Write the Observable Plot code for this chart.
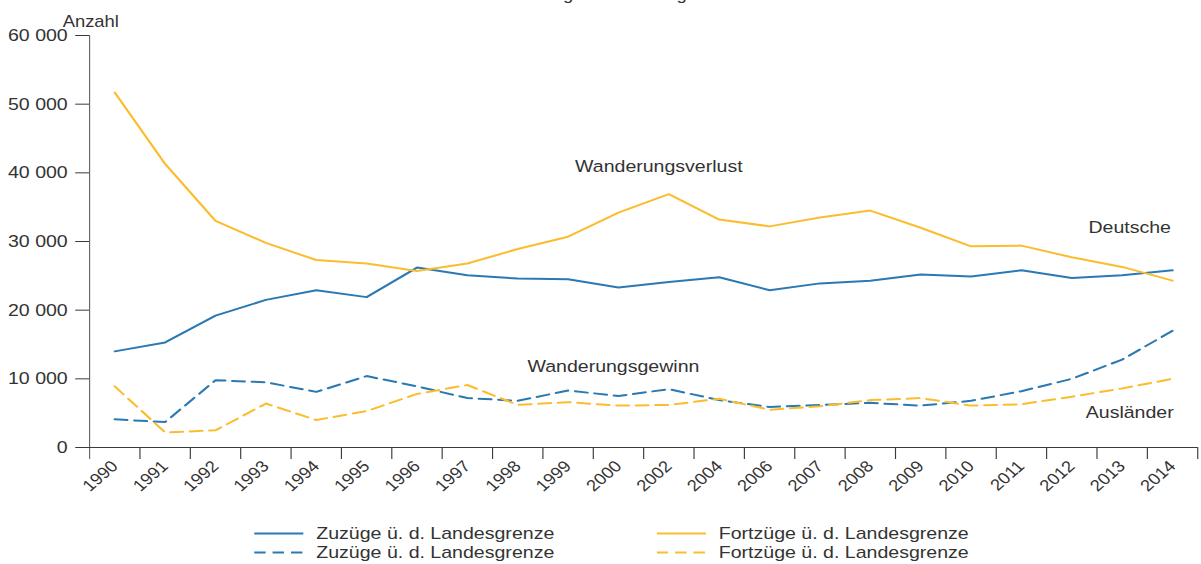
<!DOCTYPE html>
<html><head><meta charset="utf-8">
<script src="https://cdn.jsdelivr.net/npm/d3@7"></script>
<script src="https://cdn.jsdelivr.net/npm/@observablehq/plot@0.6"></script>
<style>
html,body{margin:0;padding:0;background:#fff;overflow:hidden;}
#wrap{position:relative;width:1044px;height:564px;transform:scaleX(1.15);transform-origin:0 0;font-family:"Liberation Sans",Arial,sans-serif;color:#333;}
#title{position:absolute;top:-13px;left:330px;width:400px;text-align:center;font-size:16px;line-height:16px;}
#chart{position:absolute;top:0;left:0;}
.leg{position:absolute;font-size:17px;line-height:19px;height:19px;white-space:nowrap;display:flex;align-items:center;}
.leg svg{display:block;margin-right:11px;}
</style>
</head><body>
<div id="wrap">
  <div id="title">Zuzüge und Fortzüge</div>
  <div id="chart"></div>
  <div id="legend"></div>
</div>
<script>
const years = ["1990","1991","1992","1993","1994","1995","1996","1997","1998","1999","2000","2002","2004","2006","2007","2008","2009","2010","2011","2012","2013","2014"];
const deutscheZuzuege   = [14000,15300,19200,21500,22900,21900,26200,25100,24600,24500,23300,24100,24800,22900,23900,24300,25200,24900,25800,24700,25100,25800];
const deutscheFortzuege = [51700,41300,33000,29800,27300,26800,25700,26800,28900,30700,34200,36900,33200,32200,33500,34500,32000,29300,29400,27700,26300,24300];
const auslZuzuege       = [4100,3700,9800,9500,8100,10400,8900,7200,6800,8300,7500,8500,6900,5900,6200,6500,6100,6800,8200,10000,12800,17000];
const auslFortzuege     = [8900,2200,2500,6400,4000,5300,7800,9100,6200,6600,6100,6200,7100,5500,6000,6900,7200,6100,6300,7400,8600,10000];
const yTicks = [0,10000,20000,30000,40000,50000,60000];
const legendLabels = ["Zuzüge ü. d. Landesgrenze","Fortzüge ü. d. Landesgrenze"];
const annotations = [
  {label:"Wanderungsverlust", year:"2002", value:40900, anchor:"middle", dx:-8.7},
  {label:"Wanderungsgewinn", year:"2000", value:11800, anchor:"middle", dx:-4.4},
  {label:"Deutsche", year:"2014", value:32000, anchor:"end", dx:-1.4},
  {label:"Ausländer", year:"2014", value:5100, anchor:"end", dx:1}
];

const BLUE = "#2a79b3", ORANGE = "#fbbd2e", AXIS = "#3a3a3a", YAXIS = "#666", TEXT = "#333";
const series = [
  {key:"dz", values:deutscheZuzuege, color:BLUE, dashed:false},
  {key:"df", values:deutscheFortzuege, color:ORANGE, dashed:false},
  {key:"az", values:auslZuzuege, color:BLUE, dashed:true},
  {key:"af", values:auslFortzuege, color:ORANGE, dashed:true}
];
const rows = series.flatMap(s => years.map((y, i) => ({year:y, value:s.values[i], series:s.key, color:s.color, dashed:s.dashed})));

const W = 1044, H = 500, ML = 77.4, MR = 3, MT = 35, MB = 53;
const bw = (W - ML - MR) / years.length;
const tickExt = -12 * 60000 / (H - MT - MB); // 12px below the zero line, in data units
const fmt = d => d3.format(",")(d).replace(/,/g, " ");

const plot = Plot.plot({
  width: W, height: H,
  marginLeft: ML, marginRight: MR, marginTop: MT, marginBottom: MB,
  style: {fontFamily: '"Liberation Sans", Arial, sans-serif', color: TEXT, background: "transparent"},
  x: {type: "point", domain: years, padding: 0.5, round: false, label: null},
  y: {domain: [0, 60000], label: null},
  color: {type: "identity"},
  marks: [
    Plot.axisY({ticks: yTicks, tickSize: 12, tickPadding: 7, tickFormat: fmt, fontSize: 17, stroke: AXIS, fill: TEXT, label: null}),
    Plot.axisX({tickSize: 0, tickRotate: -45, tickPadding: 16, fontSize: 16, fill: TEXT, label: null}),
    Plot.ruleX(years.slice(0, 1), {x: d => d, dx: -bw / 2, y1: 60000, y2: tickExt, stroke: YAXIS}),
    Plot.ruleX(years, {x: d => d, dx: bw / 2, y1: 0, y2: tickExt, stroke: AXIS}),
    Plot.ruleY([0], {stroke: AXIS}),
    Plot.line(rows.filter(d => !d.dashed), {x: "year", y: "value", z: "series", stroke: "color", strokeWidth: 2}),
    Plot.line(rows.filter(d => d.dashed), {x: "year", y: "value", z: "series", stroke: "color", strokeWidth: 2, strokeDasharray: "11,6"}),
    ...annotations.map(a => Plot.text([a], {x: "year", y: "value", text: "label", textAnchor: a.anchor, dx: a.dx, fontSize: 17, fill: TEXT})),
    Plot.text(["Anzahl"], {frameAnchor: "top-left", dx: -23.4, dy: -20, textAnchor: "start", fontSize: 16, fill: TEXT})
  ]
});
document.getElementById("chart").appendChild(plot);

// legend
const legend = document.getElementById("legend");
const items = [
  {label: legendLabels[0], color: BLUE, dashed: false, left: 221, top: 524},
  {label: legendLabels[0], color: BLUE, dashed: true, left: 221, top: 543},
  {label: legendLabels[1], color: ORANGE, dashed: false, left: 571, top: 524},
  {label: legendLabels[1], color: ORANGE, dashed: true, left: 571, top: 543}
];
for (const it of items) {
  const div = document.createElement("div");
  div.className = "leg";
  div.style.left = it.left + "px";
  div.style.top = it.top + "px";
  const svg = d3.create("svg").attr("width", 43).attr("height", 19);
  svg.append("line").attr("x1", 0).attr("x2", 43).attr("y1", 9.5).attr("y2", 9.5)
    .attr("stroke", it.color).attr("stroke-width", 2)
    .attr("stroke-dasharray", it.dashed ? "10,6" : null);
  div.appendChild(svg.node());
  const span = document.createElement("span");
  span.textContent = it.label;
  div.appendChild(span);
  legend.appendChild(div);
}
</script>
</body></html>
